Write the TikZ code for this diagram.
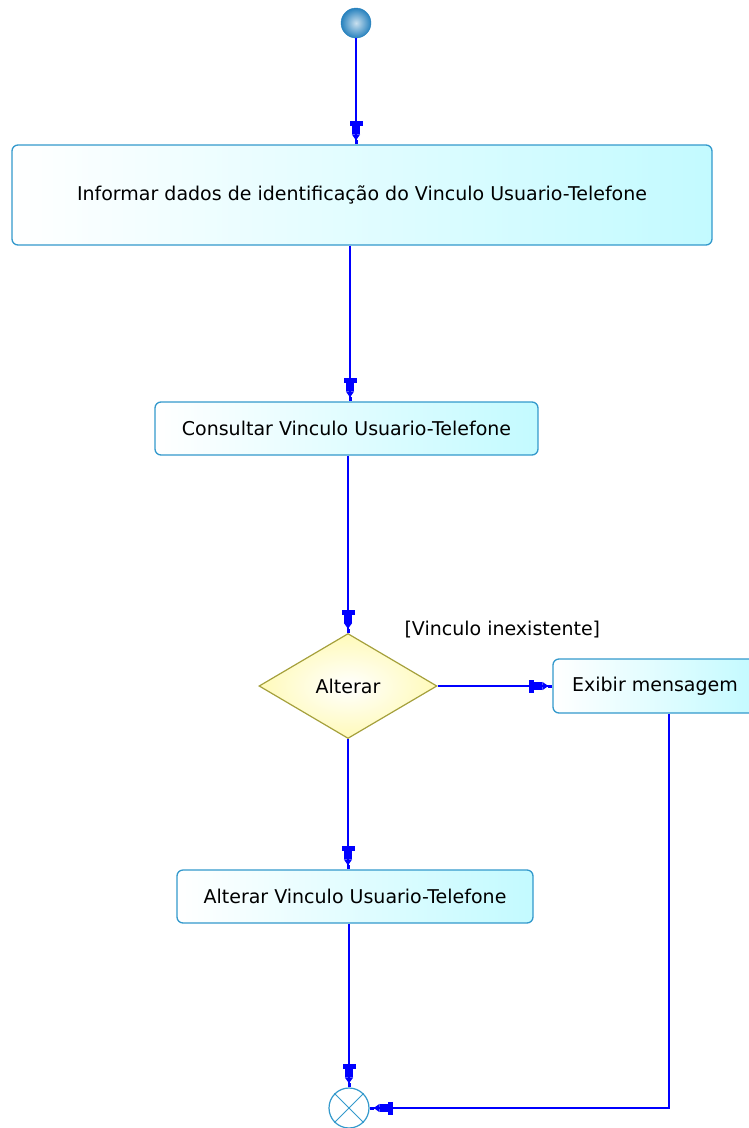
\documentclass[tikz,border=0pt]{standalone}
\usepackage{fontspec}
\setmainfont{DejaVu Sans}
\usetikzlibrary{arrows.meta, positioning, shapes.geometric, calc}
\definecolor{linha}{RGB}{0,0,255}
\definecolor{borda}{RGB}{51,153,204}
\definecolor{fundo}{RGB}{195,250,255}
\definecolor{bordadec}{RGB}{165,160,60}
\definecolor{fundodec}{RGB}{255,250,185}
\definecolor{bola}{RGB}{40,130,190}

\begin{document}
\begin{tikzpicture}[x=1pt,y=-1pt,
  acao/.style={draw=borda, line width=1.3pt, rounded corners=6pt,
    left color=white, right color=fundo, font=\fontsize{19}{22}\selectfont},
  decisao/.style={diamond, draw=bordadec, line width=1.2pt, aspect=1.7,
    inner sep=0pt, minimum width=178pt, minimum height=105pt,
    inner color=white, outer color=fundodec, font=\fontsize{19}{22}\selectfont},
  seta/.style={draw=linha, line width=1.4pt,
    -{Rectangle[width=13pt,length=5pt,sep=0pt]Rectangle[width=8pt,length=8pt,sep=0pt]Triangle[width=8pt,length=6pt,sep=0pt]Rectangle[width=3pt,length=4pt,sep=0pt]}},
  rotulo/.style={font=\fontsize{19}{22}\selectfont}
]
  \useasboundingbox (0,0) rectangle (749,1128);
  % estados
  \node[circle, draw=bola, inner color=bola!25!white, outer color=bola,
    minimum size=30pt, inner sep=0pt] (inicio) at (356,23) {};
  \node[acao, minimum width=700pt, minimum height=100pt] (informar) at (362,195)
    {Informar dados de identificação do Vinculo Usuario-Telefone};
  \node[acao, minimum width=383pt, minimum height=53pt] (consultar) at (346.5,428.5)
    {Consultar Vinculo Usuario-Telefone};
  \node[decisao] (alterar) at (348,686) {Alterar};
  \node[acao, minimum width=204pt, minimum height=54pt] (exibir) at (655,686)
    {Exibir mensagem};
  \node[acao, minimum width=356pt, minimum height=53pt] (alterarvinculo) at (355,896.5)
    {Alterar Vinculo Usuario-Telefone};
  \node[circle, draw=borda, fill=white, line width=1.2pt, minimum size=40pt,
    inner sep=0pt] (fim) at (349,1108) {};
  \draw[borda, line width=1pt] (fim.north west) -- (fim.south east)
    (fim.north east) -- (fim.south west);
  \node[rotulo, anchor=west] (guarda) at (401,630) {[Vinculo inexistente]};
  % transicoes
  \draw[seta] (inicio) -- (inicio |- informar.north);
  \draw[seta] (informar.south -| 350,0) -- (consultar.north -| 350,0);
  \draw[seta] (consultar.south -| alterar.north) -- (alterar.north);
  \draw[seta] (alterar.east) -- (exibir.west);
  \draw[seta] (alterar.south) -- (alterar.south |- alterarvinculo.north);
  \draw[seta] (alterarvinculo.south -| fim.north) -- (fim.north);
  \coordinate (desvio) at ($(exibir.south)+(14,0)$);
  \draw[seta] (desvio) |- (fim.east);
\end{tikzpicture}
\end{document}
